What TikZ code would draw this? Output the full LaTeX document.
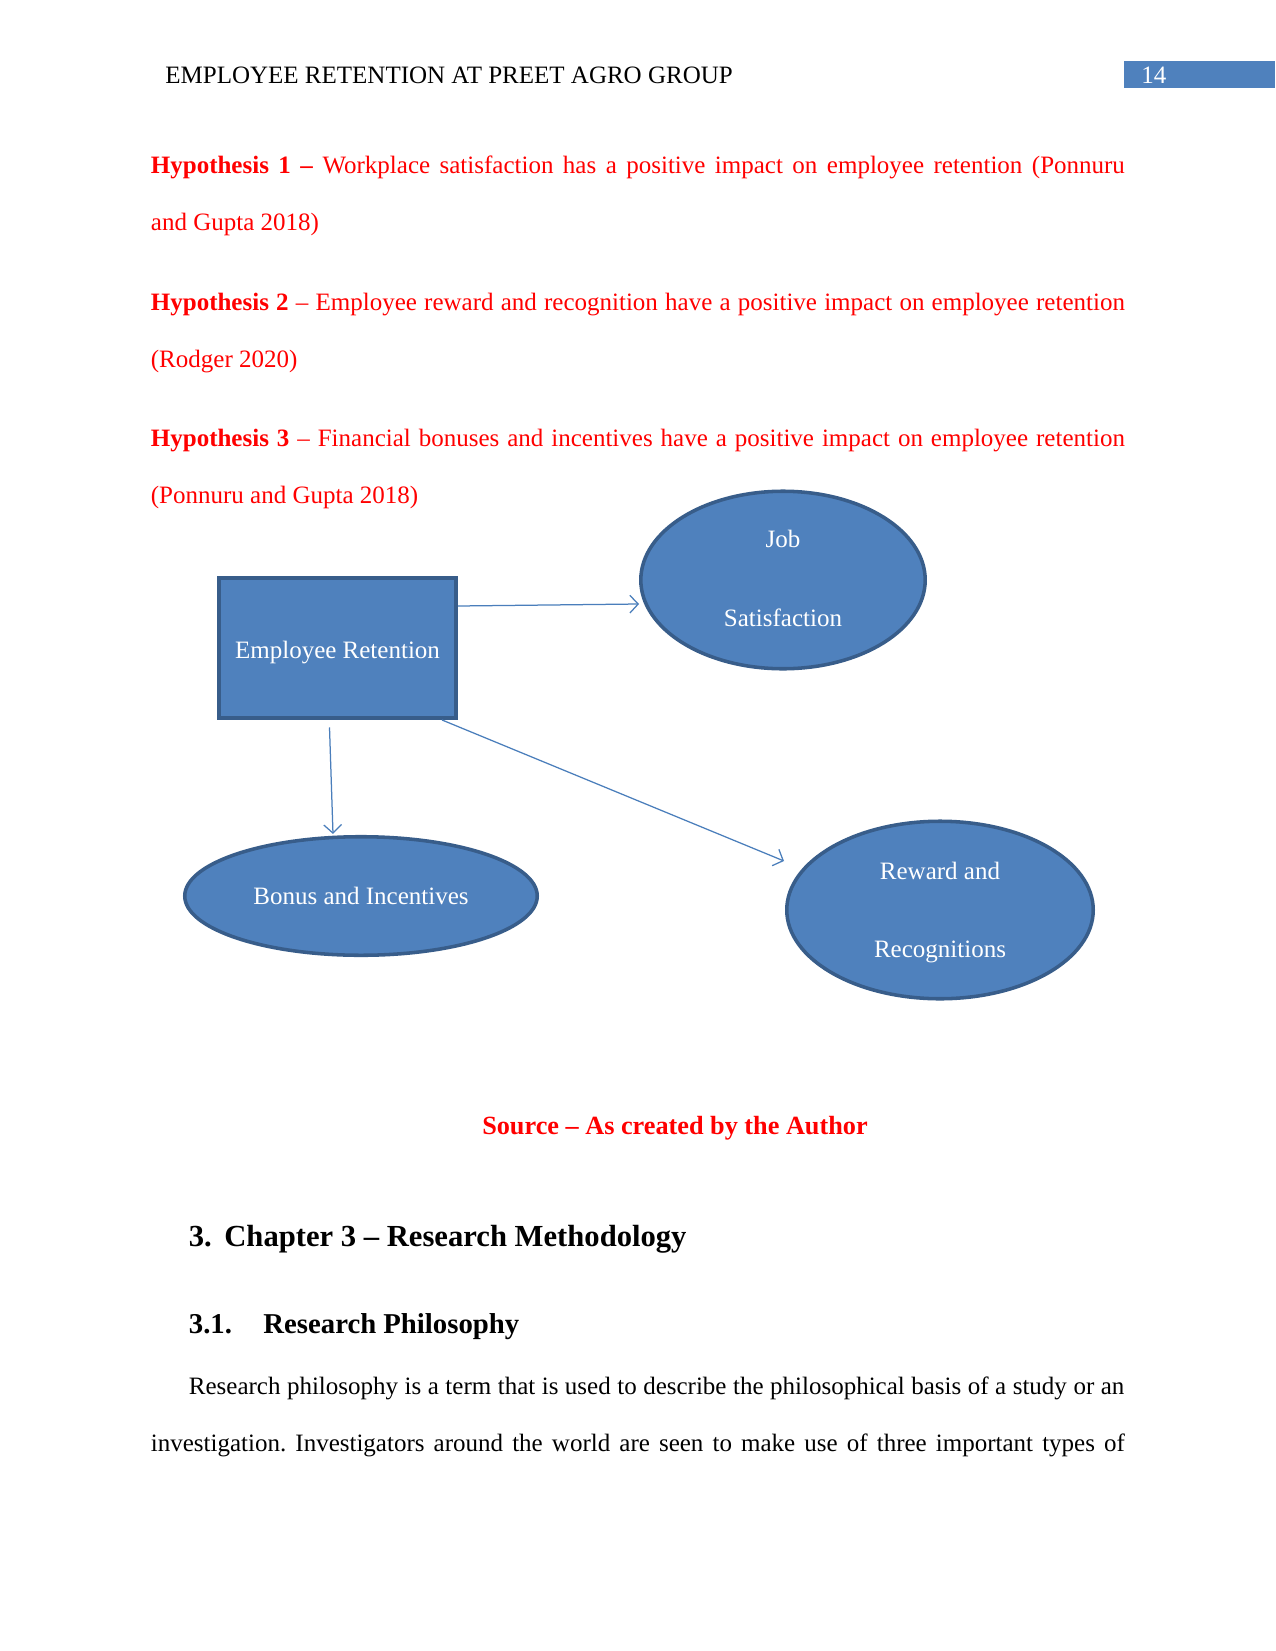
\documentclass[tikz,border=0pt]{standalone}
\usepackage{fontspec}
\setmainfont{Liberation Serif}
\usetikzlibrary{shapes.geometric,arrows.meta,calc}
\definecolor{fillblue}{HTML}{4F81BD}
\definecolor{edgeblue}{HTML}{385D8A}
\definecolor{arrblue}{HTML}{4A7EBB}
\definecolor{hypred}{HTML}{FF0000}
\begin{document}
\frenchspacing
\begin{tikzpicture}[x=0.48pt,y=-0.48pt,
  txt/.style={inner sep=0pt, anchor=base west, font=\fontsize{12}{14}\selectfont},
  redtxt/.style={txt, text=hypred},
  shapebox/.style={draw=edgeblue, line width=1.7pt, fill=fillblue, text=white,
    font=\fontsize{12}{14}\selectfont, inner sep=0pt, align=center},
  link/.style={draw=arrblue, line width=0.6pt, -{Straight Barb[length=4pt,width=8.5pt]}}]
\useasboundingbox (0,0) rectangle (1275,1651);
\fill[white] (0,0) rectangle (1275,1651);
% header
\node[txt] (hdr) at (165,84) {EMPLOYEE RETENTION AT PREET AGRO GROUP};
\fill[fillblue] (1124,61) rectangle (1275,88);
\node[txt, text=white] (pg) at (1141,84) {14};
% hypotheses
\node[redtxt] (h1a) at (150.5,174) {\makebox[467.5pt][s]{\textbf{Hypothesis 1 –} Workplace satisfaction has a positive impact on employee retention (Ponnuru}};
\node[redtxt] (h1b) at (150.5,231) {and Gupta 2018)};
\node[redtxt] (h2a) at (150.5,310) {\makebox[467.5pt][s]{\textbf{Hypothesis 2} – Employee reward and recognition have a positive impact on employee retention}};
\node[redtxt] (h2b) at (150.5,367) {(Rodger 2020)};
\node[redtxt] (h3a) at (150.5,446) {\makebox[467.5pt][s]{\textbf{Hypothesis 3} – Financial bonuses and incentives have a positive impact on employee retention}};
\node[redtxt] (h3b) at (150.5,503) {(Ponnuru and Gupta 2018)};
% diagram
\node[shapebox, rectangle, minimum width=114pt, minimum height=67.4pt,
  text height=11.6pt, text depth=1.6pt] (er) at (337.5,648) {Employee Retention};
\node[shapebox, ellipse, minimum width=136.5pt, minimum height=85.2pt] (js) at (783,580) {Job\\[23.8pt]Satisfaction\rule[-1.5pt]{0pt}{1pt}};
\node[shapebox, ellipse, minimum width=169.2pt, minimum height=56.9pt] (bi) at (361,896) {Bonus and Incentives};
\node[shapebox, ellipse, minimum width=147.1pt, minimum height=85.2pt] (rr) at (940,910) {\rule{0pt}{11pt}Reward and\\[23.3pt]Recognitions};
\draw[link] ($(er.east)+(0,-42)$) -- ($(js.west)+(0,24)$);
\draw[link] ($(er.south)+(-8,7.5)$) -- ($(bi.north)+(-28,-1)$);
\draw[link] ($(er.south east)+(-16,0)$) -- ($(rr.west)+(-1,-49)$);
% caption and text
\node[txt, font=\fontsize{12.6}{15}\selectfont\bfseries, text=hypred, anchor=base] (src) at (675,1134) {Source – As created by the Author};
\node[txt, font=\fontsize{14.7}{17}\selectfont\bfseries] (ch) at (188.5,1246) {3.\hspace{6pt}Chapter 3 – Research Methodology};
\node[txt, font=\fontsize{13.8}{16}\selectfont\bfseries] (s31) at (188.5,1333) {3.1.};
\node[txt, font=\fontsize{13.8}{16}\selectfont\bfseries] (s31t) at (263,1333) {Research Philosophy};
\node[txt] (p1) at (188.5,1394) {\makebox[449pt][s]{Research philosophy is a term that is used to describe the philosophical basis of a study or an}};
\node[txt] (p2) at (150.5,1451) {\makebox[467.5pt][s]{investigation. Investigators around the world are seen to make use of three important types of}};
\end{tikzpicture}
\end{document}
